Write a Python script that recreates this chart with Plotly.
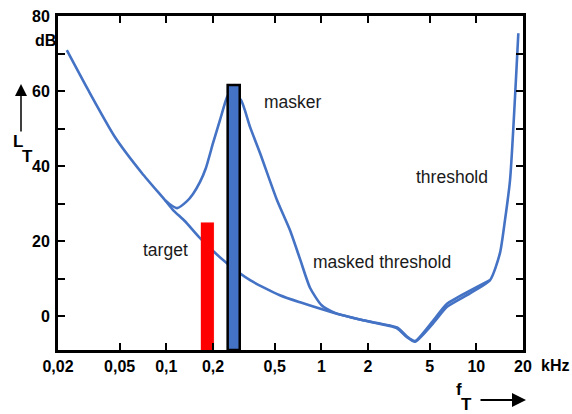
import plotly.graph_objects as go
import math

# ---------------- data ----------------
# threshold in quiet: frequency (kHz) and level (dB)
tq_freq = [0.0228, 0.0313, 0.0467, 0.0697, 0.0981, 0.1105, 0.132, 0.165, 0.246, 0.347,
           0.54, 0.73, 1.14, 1.86, 3.08, 3.57, 4.02, 5.26, 6.47, 9.1, 12.25, 14.2,
           15.3, 16.5, 18.66]
tq_level = [70.9, 60.3, 47.7, 38.1, 30.9, 28.3, 25.3, 20.8, 14.1, 9.6,
            5.6, 3.7, 1.2, -1.1, -3.2, -5.6, -6.8, -1.9, 2.5, 6.1, 9.6, 16.8,
            25.6, 36.3, 75.4]

# masked threshold (masker present)
mt_freq = [0.0981, 0.1072, 0.1173, 0.1354, 0.1486, 0.165, 0.18, 0.2, 0.222, 0.2464,
           0.2615, 0.303, 0.347, 0.402, 0.518, 0.628, 0.729, 0.845, 1.0, 1.225,
           1.86, 3.08, 3.57, 4.02, 5.26, 6.47, 9.1, 12.25]
mt_level = [30.9, 29.6, 28.8, 30.6, 32.6, 35.8, 39.5, 46.1, 52.3, 58.4,
            59.8, 57.6, 50.4, 43.5, 30.9, 22.9, 15.2, 7.6, 3.0, 0.9,
            -1.1, -3.0, -5.4, -6.6, -1.2, 3.3, 6.8, 9.6]

# tone bars: target and masker
bar_names = ["target", "masker"]
bar_freq = [0.184, 0.272]
bar_level = [25, 61.6]

# axes
x_tickvals = [0.02, 0.05, 0.1, 0.2, 0.5, 1, 2, 5, 10, 20]
x_ticktext = ["0,02", "0,05", "0,1", "0,2", "0,5", "1", "2", "5", "10", "20"]
y_tickvals = [0, 10, 20, 30, 40, 50, 60, 70, 80]
y_ticktext = ["0", "", "20", "", "40", "", "60", "", "80"]

# ---------------- styling ----------------
W, H = 572, 414
L, R, T, B = 58, 49, 16, 64
Y_MIN, Y_MAX = -9, 80
BLUE = "#4472C4"
BAR_HALF_DECADES = [0.042, 0.039]
BAR_FILL = ["#FF0000", "#4472C4"]
BAR_LINE = [0, 2.5]
TICKFONT = dict(family="Liberation Sans", size=16, color="black", weight="bold")
TEXTFONT = dict(family="Liberation Sans", size=17.5, color="#1a1a1a")
LBLFONT = dict(family="Liberation Sans", size=17, color="black", weight="bold")

fig = go.Figure()

fig.add_trace(go.Scatter(x=tq_freq, y=tq_level, mode="lines",
                         line=dict(color=BLUE, width=2.6, shape="spline", smoothing=0.6),
                         hoverinfo="skip", showlegend=False))
fig.add_trace(go.Scatter(x=mt_freq, y=mt_level, mode="lines",
                         line=dict(color=BLUE, width=2.6, shape="spline", smoothing=0.6),
                         hoverinfo="skip", showlegend=False))

for i, (f, lv) in enumerate(zip(bar_freq, bar_level)):
    k = 10 ** BAR_HALF_DECADES[i]
    xs = [f / k, f * k, f * k, f / k, f / k]
    ys = [Y_MIN, Y_MIN, lv, lv, Y_MIN]
    fig.add_trace(go.Scatter(x=xs, y=ys, mode="lines", fill="toself",
                             fillcolor=BAR_FILL[i],
                             line=dict(color="black" if BAR_LINE[i] else BAR_FILL[i],
                                       width=BAR_LINE[i] if BAR_LINE[i] else 0.1),
                             hoverinfo="skip", showlegend=False))


def pp(xp, yp):
    """pixel -> paper coords"""
    return (xp - L) / (W - L - R), (H - B - yp) / (H - T - B)


anns = []


def text(s, xp, yp, font, xanchor="center"):
    x, y = pp(xp, yp)
    anns.append(dict(text=s, x=x, y=y, xref="paper", yref="paper", showarrow=False,
                     xanchor=xanchor, yanchor="middle", font=font))


text("masker", 292.5, 102, TEXTFONT)
text("threshold", 451.5, 177, TEXTFONT)
text("masked threshold", 382, 262, TEXTFONT)
text("target", 165.5, 250, TEXTFONT)
text("dB", 45.5, 41, TICKFONT)
text("kHz", 555, 365, TICKFONT)
text("L", 17.5, 141, LBLFONT)
text("T", 27.5, 156, LBLFONT)
text("f", 459, 389, LBLFONT)
text("T", 466, 404, LBLFONT)

# arrows
hx, hy = pp(21, 84)
anns.append(dict(text="", x=hx, y=hy, xref="paper", yref="paper", showarrow=True,
                 ax=0, ay=49, arrowhead=2, arrowsize=1.6, arrowwidth=1.5,
                 arrowcolor="black", standoff=0))
hx, hy = pp(526, 400)
anns.append(dict(text="", x=hx, y=hy, xref="paper", yref="paper", showarrow=True,
                 ax=-47, ay=0, arrowhead=2, arrowsize=1.4, arrowwidth=2,
                 arrowcolor="black", standoff=0))

fig.update_layout(
    width=W, height=H,
    margin=dict(l=L, r=R, t=T, b=B, pad=0, autoexpand=False),
    paper_bgcolor="white", plot_bgcolor="white",
    annotations=anns,
    xaxis=dict(type="log", range=[math.log10(0.02), math.log10(20)],
               tickvals=x_tickvals, ticktext=x_ticktext,
               ticks="inside", ticklen=7, tickwidth=2, tickcolor="black",
               showline=True, linecolor="black", linewidth=3, mirror="ticks",
               showgrid=False, zeroline=False, tickfont=TICKFONT,
               ticklabelstandoff=0, automargin=False),
    yaxis=dict(range=[Y_MIN, Y_MAX], tickvals=y_tickvals, ticktext=y_ticktext,
               ticks="inside", ticklen=7, tickwidth=2, tickcolor="black",
               showline=True, linecolor="black", linewidth=3, mirror="ticks",
               showgrid=False, zeroline=False, tickfont=TICKFONT,
               ticklabelstandoff=2, automargin=False),
)

fig.write_html("out.html", config={"displayModeBar": False},
               post_script="document.body.style.margin='0';document.body.style.padding='0';")
